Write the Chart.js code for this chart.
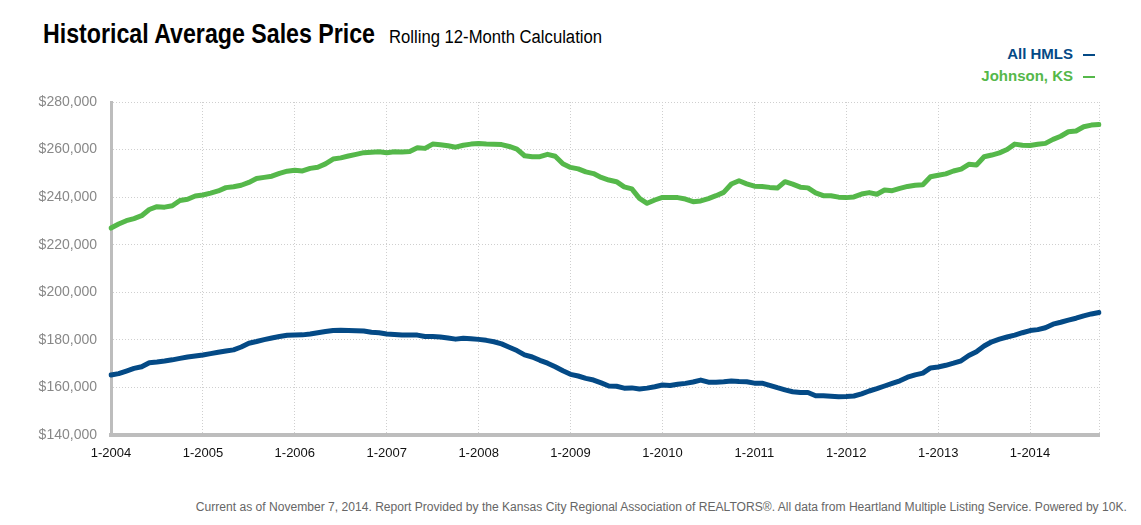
<!DOCTYPE html>
<html>
<head>
<meta charset="utf-8">
<script src="https://cdn.jsdelivr.net/npm/chart.js@4.4.1/dist/chart.umd.min.js"></script>
<style>
  html, body { margin: 0; padding: 0; background: #fff; }
  body { width: 1141px; height: 525px; position: relative; overflow: hidden; font-family: "Liberation Sans", Arial, sans-serif; }
  .fit { position: absolute; white-space: nowrap; display: inline-block; transform-origin: 0 0; }
  #title { left: 43px; top: 20px; font-weight: bold; font-size: 28px; line-height: 28px; color: #000; }
  #subtitle { left: 389px; top: 28px; font-size: 18px; line-height: 18px; color: #000; }
  .legend { position: absolute; right: 46px; font-weight: bold; font-size: 15px; white-space: nowrap; }
  .legend .dash { display: inline-block; width: 12px; height: 2px; margin-left: 10px; vertical-align: middle; }
  #footer { top: 500px; font-size: 12px; line-height: 14px; color: #666; transform-origin: 100% 0; }
  #chart { position: absolute; left: 0; top: 0; }
</style>
</head>
<body>
<span id="title" class="fit">Historical Average Sales Price</span>
<span id="subtitle" class="fit">Rolling 12-Month Calculation</span>
<div class="legend" style="top:45px;color:#044a86">All HMLS<span class="dash" style="background:#044a86"></span></div>
<div class="legend" style="top:67px;color:#55b84a">Johnson, KS<span class="dash" style="background:#55b84a"></span></div>
<canvas id="chart" width="1141" height="470"></canvas>
<span id="footer" class="fit">Current as of November 7, 2014. Report Provided by the Kansas City Regional Association of REALTORS®. All data from Heartland Multiple Listing Service. Powered by 10K.</span>
<script>
// Months Jan 2004 .. Oct 2014
var years = [2004, 2005, 2006, 2007, 2008, 2009, 2010, 2011, 2012, 2013, 2014];
var lastMonth = 10;
var months = [];
years.forEach(function (y) {
  for (var m = 1; m <= 12; m++) {
    if (y === 2014 && m > lastMonth) break;
    months.push(m + '-' + y);
  }
});

var allHmls = [
  165200, 165800, 166900, 168000, 168700, 170400, 170700, 171100, 171600, 172200, 172800, 173200,
  173600, 174200, 174800, 175300, 175800, 177000, 178600, 179300, 180100, 180800, 181400, 181900,
  182000, 182100, 182500, 183000, 183500, 183900, 184000, 183900, 183800, 183700, 183200, 183000,
  182500, 182300, 182000, 182000, 182000, 181400, 181400, 181200, 180800, 180300, 180700, 180500,
  180200, 179800, 179200, 178300, 176900, 175500, 173700, 172800, 171400, 170200, 168700, 167000,
  165500, 164800, 163800, 163100, 161900, 160600, 160500, 159700, 159800, 159300, 159700, 160300,
  161000, 160800, 161300, 161700, 162300, 163100, 162200, 162200, 162400, 162700, 162500, 162400,
  161800, 161800, 160900, 159900, 159000, 158200, 157900, 157900, 156500, 156500, 156300, 156100,
  156200, 156400, 157300, 158500, 159500, 160600, 161700, 162800, 164300, 165300, 166000, 168200,
  168600, 169300, 170200, 171200, 173400, 175000, 177400, 179200, 180300, 181200, 182000, 183000,
  183900, 184300, 185100, 186600, 187400, 188300, 189100, 190100, 190900, 191500
];

var johnsonKs = [
  227000, 228700, 230100, 231000, 232200, 234800, 236000, 235800, 236400, 238600, 239100, 240500,
  240900, 241700, 242600, 244000, 244400, 245000, 246200, 247800, 248300, 248800, 250000, 250900,
  251300, 251000, 252100, 252600, 254000, 256000, 256500, 257300, 258000, 258700, 258900, 259100,
  258700, 259100, 259000, 259200, 260800, 260500, 262300, 262000, 261600, 261000, 261800, 262300,
  262600, 262300, 262200, 262100, 261300, 260200, 257400, 257000, 257000, 258000, 257200, 254000,
  252500, 251900, 250600, 249900, 248300, 247200, 246500, 244300, 243500, 239500, 237400, 238800,
  239900, 239800, 239800, 239200, 238100, 238400, 239400, 240600, 242000, 245500, 246900, 245600,
  244600, 244500, 244100, 243800, 246500, 245500, 244200, 243900, 241800, 240600, 240600, 240000,
  239800, 240100, 241300, 241900, 241200, 243000, 242700, 243700, 244500, 245000, 245200, 248600,
  249200, 249800, 251000, 251800, 253800, 253500, 257000, 257700, 258600, 260000, 262300, 261800,
  261700, 262200, 262600, 264300, 265600, 267500, 267800, 269600, 270300, 270500
];

var yMin = 140000;
var yMax = 280000;
var yStep = 20000;

var BLUE = '#044a86';
var GREEN = '#55b84a';
var GRID = '#cfcfcf';
var AXIS = '#bdbdbd';
var FONT = '"Liberation Sans", Arial, sans-serif';

// squeeze text into the condensed widths of the original
function fitText(id, width, rightEdge) {
  var el = document.getElementById(id);
  var w = el.getBoundingClientRect().width;
  el.style.transform = 'scaleX(' + (width / w) + ')';
  if (rightEdge) el.style.left = (rightEdge - w) + 'px';
}
fitText('title', 332);
fitText('subtitle', 213);
fitText('footer', 931, 1127);

function isJan(i) {
  return months[i] && months[i].indexOf('1-') === 0;
}

var ctx = document.getElementById('chart').getContext('2d');
new Chart(ctx, {
  type: 'line',
  data: {
    labels: months,
    datasets: [
      {
        label: 'Johnson, KS',
        data: johnsonKs,
        borderColor: GREEN,
        borderWidth: 5,
        pointRadius: 0,
        tension: 0,
        borderCapStyle: 'round',
        borderJoinStyle: 'round'
      },
      {
        label: 'All HMLS',
        data: allHmls,
        borderColor: BLUE,
        borderWidth: 5,
        pointRadius: 0,
        tension: 0,
        borderCapStyle: 'round',
        borderJoinStyle: 'round'
      }
    ]
  },
  options: {
    responsive: false,
    animation: false,
    layout: { padding: { top: 102, left: 0, right: 42, bottom: 0 } },
    plugins: {
      legend: { display: false },
      tooltip: { enabled: false }
    },
    scales: {
      x: {
        type: 'category',
        offset: false,
        afterFit: function (scale) { scale.height = 35; },
        grid: {
          drawTicks: false,
          lineWidth: 1,
          color: function (c) {
            return (isJan(c.index) || c.index === months.length - 1) ? GRID : 'rgba(0,0,0,0)';
          }
        },
        border: { color: AXIS, width: 4, dash: [1, 2] },
        ticks: {
          autoSkip: false,
          maxRotation: 0,
          minRotation: 0,
          padding: 11,
          color: '#111',
          font: { family: FONT, size: 13 },
          callback: function (v, i) { return isJan(i) ? months[i] : ''; }
        }
      },
      y: {
        min: yMin,
        max: yMax,
        afterFit: function (scale) { scale.width = 111; },
        grid: { drawTicks: false, color: GRID, lineWidth: 1 },
        border: { color: AXIS, width: 3, dash: [1, 2] },
        ticks: {
          stepSize: yStep,
          padding: 14,
          color: '#888',
          font: { family: FONT, size: 14 },
          callback: function (v) { return '$' + v.toLocaleString('en-US'); }
        }
      }
    }
  }
});
</script>
</body>
</html>
